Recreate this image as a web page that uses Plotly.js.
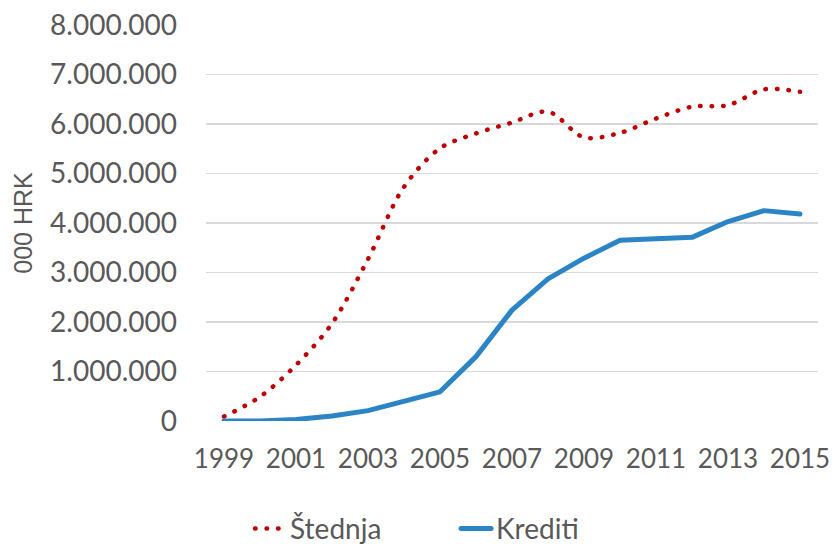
<!DOCTYPE html>
<html>
<head>
<meta charset="utf-8">
<script src="https://cdn.plot.ly/plotly-3.0.1.min.js"></script>
<style>
html,body{margin:0;padding:0;background:#fff;}
#chart{width:834px;height:544px;}
path.js-line{stroke-linecap:round;stroke-linejoin:round;}
</style>
</head>
<body>
<div id="chart"></div>
<script>
const years = [1999,2000,2001,2002,2003,2004,2005,2006,2007,2008,2009,2010,2011,2012,2013,2014,2015];
const stednja = [90000,490000,1130000,1970000,3270000,4730000,5510000,5810000,6030000,6250000,5730000,5820000,6110000,6350000,6380000,6700000,6650000];
const krediti = [0,0,30000,100000,210000,390000,590000,1300000,2240000,2870000,3290000,3650000,3690000,3710000,4030000,4250000,4180000];
const xTicks = [1999,2001,2003,2005,2007,2009,2011,2013,2015];
const seriesNames = ['Štednja','Krediti'];

const textColor = '#595959';
const traces = [
  {x: years, y: stednja, name: seriesNames[0], type: 'scatter', mode: 'lines',
   line: {color: '#C00000', width: 4.5, dash: '0.5px,11px', shape: 'spline', smoothing: 0.9}},
  {x: years, y: krediti, name: seriesNames[1], type: 'scatter', mode: 'lines',
   line: {color: '#2A84C6', width: 5}}
];
const layout = {
  width: 834, height: 544,
  margin: {l: 206, r: 16, t: 25, b: 123, autoexpand: false},
  paper_bgcolor: '#fff', plot_bgcolor: '#fff',
  separators: ',.',
  showlegend: true,
  legend: {orientation: 'h', x: 0.072, y: -0.272, xanchor: 'left', yanchor: 'middle',
           font: {family: 'Lato, sans-serif', size: 28, color: textColor}, itemwidth: 30, entrywidth: 161, entrywidthmode: 'pixels'},
  xaxis: {range: [1998.5, 2015.5], tickvals: xTicks, ticktext: xTicks.map(String), showgrid: false, zeroline: false,
          showline: false, ticks: '', ticklabelstandoff: 20, automargin: false,
          tickfont: {family: 'Lato, sans-serif', size: 26, color: textColor}, fixedrange: true},
  yaxis: {range: [0, 8000000], dtick: 1000000, tickformat: ',d', showgrid: true, gridcolor: '#D9D9D9', gridwidth: 1.5,
          zeroline: false, showline: false, ticks: '', ticklabelstandoff: 28, automargin: false,
          tickfont: {family: 'Lato, sans-serif', size: 28, color: textColor},
          title: {text: '000 HRK', font: {family: '"Liberation Sans Narrow", "Liberation Sans", sans-serif', size: 25, color: textColor}, standoff: 10}}
};
Plotly.newPlot('chart', traces, layout, {displayModeBar: false, staticPlot: true});
</script>
</body>
</html>
